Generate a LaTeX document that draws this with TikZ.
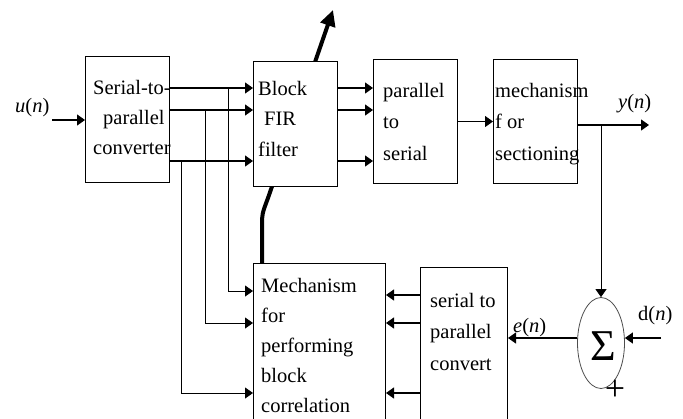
\documentclass[tikz,border=0pt]{standalone}
\usepackage{fontspec}
\setmainfont{Liberation Serif}
\usetikzlibrary{arrows.meta,positioning,shapes.geometric}

\begin{document}
\begin{tikzpicture}[
    x=1pt, y=-1pt,
    block/.style={draw, rectangle, fill=white, line width=1pt, anchor=north west, inner sep=0pt},
    txt/.style={anchor=north west, align=left, inner sep=0pt, font=\fontsize{20.5}{30}\selectfont},
    lbl/.style={anchor=base west, inner sep=0pt, font=\fontsize{20.5}{24}\selectfont},
    arrow/.style={-{Triangle[length=8pt, width=11pt]}, line width=1.3pt},
    tap/.style={-{Triangle[length=8pt, width=11pt]}, line width=0.8pt},
    weight/.style={-{Triangle[length=16pt, width=15pt]}, line width=4pt}
]
    \useasboundingbox (0,0) rectangle (683,418);
    \clip (0,0) rectangle (683,418);

    % rows of the parallel lines
    \coordinate (row1) at (0,88);
    \coordinate (row2) at (0,110);
    \coordinate (row3) at (0,161);
    \coordinate (mrow1) at (0,291);
    \coordinate (crow1) at (0,295);
    \coordinate (mrow2) at (0,323);
    \coordinate (mrow3) at (0,393);
    \coordinate (tap1) at (228,88);
    \coordinate (tap2) at (205,110);
    \coordinate (tap3) at (181,161);
    \coordinate (uin) at (52,120);
    \coordinate (yout) at (649,125);
    \coordinate (din) at (661,338);
    \coordinate (wtip) at (333,10);

    % blocks
    \node[block, minimum width=84pt, minimum height=126pt] (s2p) at (85,56) {};
    \node[block, minimum width=132pt, minimum height=170pt] (mech) at (253,263) {};
    \node[block, minimum width=87pt, minimum height=170pt] (conv) at (420,267) {};
    \node[block, minimum width=84pt, minimum height=124pt] (p2s) at (373,59) {};
    \node[block, minimum width=84pt, minimum height=124pt] (sect) at (493,59) {};
    \node[draw=black!70, line width=0.8pt, ellipse, minimum width=47pt, minimum height=91pt, inner sep=0pt] (sum) at (601,343) {};

    % weight update
    \draw[weight] ([xshift=9pt]mech.north west) -- (262,226) .. controls (262,214) .. (268,198) -- (wtip);
    \node[block, minimum width=84pt, minimum height=125pt] (fir) at (253,61) {};

    % texts
    \node[txt] (s2p-txt) at (93,80) {Serial-to-\\\hspace*{10pt}parallel\\converter};
    \node[txt, font=\fontsize{20.5}{30.5}\selectfont] (fir-txt) at (258,81) {Block\\\hspace*{6pt}FIR\\filter};
    \node[txt, font=\fontsize{20.5}{31.5}\selectfont] (p2s-txt) at (383,83) {parallel\\to\\serial};
    \node[txt, font=\fontsize{20.5}{31.5}\selectfont] (sect-txt) at (495,83) {mechanism\\f or\\sectioning};
    \node[txt] (mech-txt) at (261,278) {Mechanism\\for\\performing\\block\\correlation};
    \node[txt, font=\fontsize{20.5}{31.5}\selectfont] (conv-txt) at (430,293) {serial to\\parallel\\convert};
    \node[font=\fontsize{44}{44}\selectfont, inner sep=0pt] (sigma) at (603,346) {Σ};
    \node[lbl] (u-lbl) at (15,112) {\textit{u}(\textit{n})};
    \node[lbl] (y-lbl) at (618,108) {\textit{y}(\textit{n})};
    \node[lbl] (d-lbl) at (638,320) {d(\textit{n})};
    \node[lbl] (e-lbl) at (513,332) {\textit{e}(\textit{n})};
    \node[font=\fontsize{36}{36}\selectfont, inner sep=0pt] (plus) at (615,390) {+};

    % connectors
    \draw[arrow] (uin) -- (uin -| s2p.west);
    \foreach \r in {row1,row2,row3} {
        \draw[arrow] (s2p.east |- \r) -- (fir.west |- \r);
        \draw[arrow] (fir.east |- \r) -- (p2s.west |- \r);
    }
    \draw[arrow] (p2s) -- (sect);
    \draw[arrow] (sect.east |- yout) -- (yout);
    \draw[tap] (sum |- yout) -- (sum.north);
    \draw[arrow] (din) -- (sum.east |- din);
    \draw[arrow] (sum.west |- din) -- (conv.east |- din);

    \draw[tap] (tap1) |- (mech.west |- mrow1);
    \draw[tap] (tap2) |- (mech.west |- mrow2);
    \draw[tap] (tap3) |- (mech.west |- mrow3);
    \draw[arrow] (conv.west |- crow1) -- (mech.east |- crow1);
    \draw[arrow] (conv.west |- mrow2) -- (mech.east |- mrow2);
    \draw[arrow] (conv.west |- mrow3) -- (mech.east |- mrow3);
\end{tikzpicture}
\end{document}
